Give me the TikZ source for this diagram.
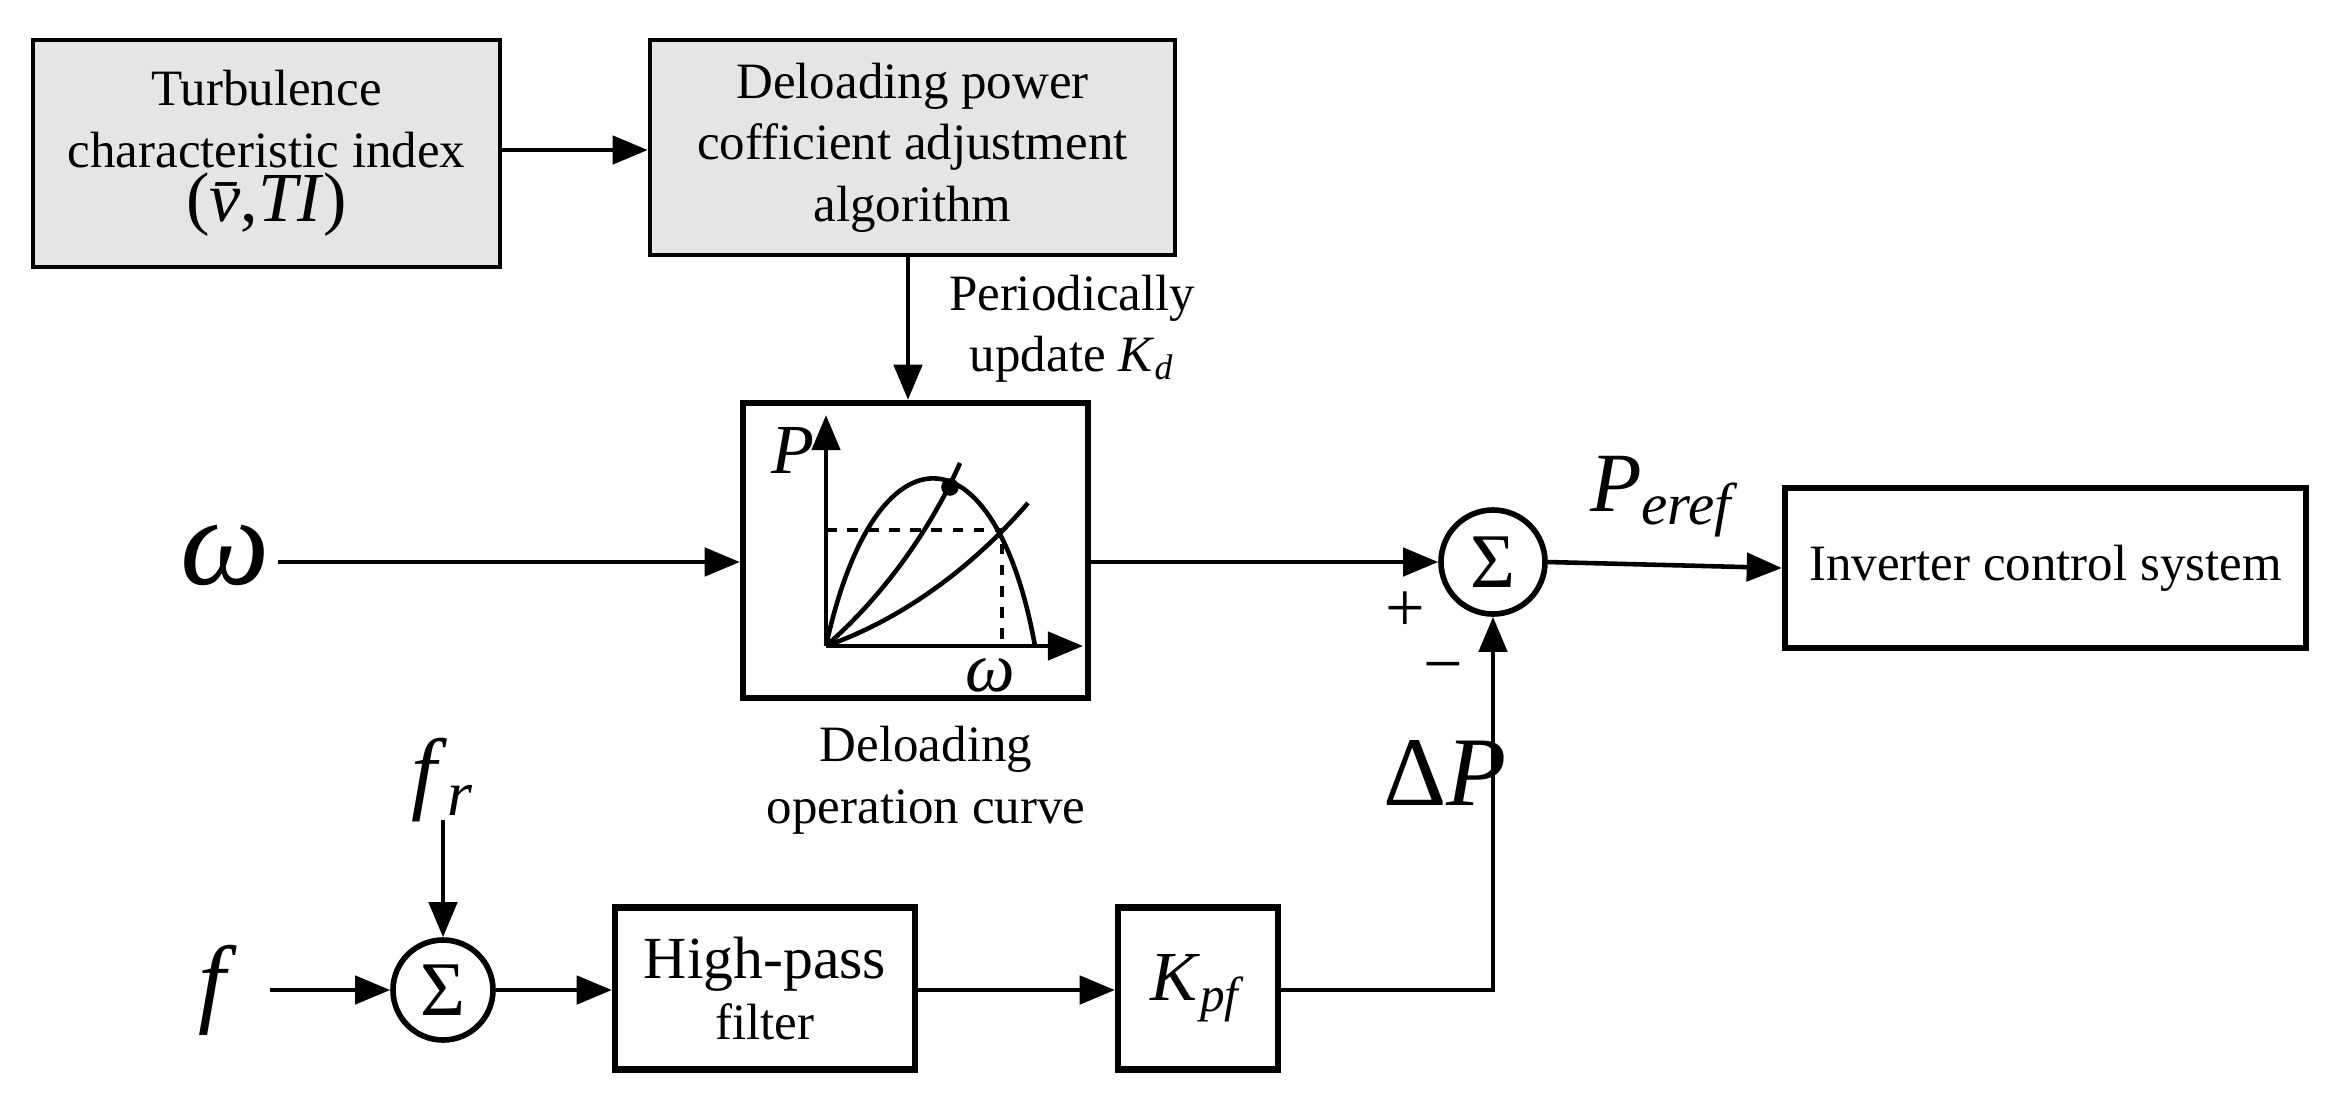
\documentclass[tikz,border=0pt]{standalone}
\usepackage{fontspec}
\setmainfont{Liberation Serif}
\usetikzlibrary{arrows.meta}
\newcommand{\itx}[1]{\textit{#1}}
\begin{document}
\begin{tikzpicture}[line width=1.3pt, >={Triangle[length=10pt,width=8pt]},
	font=\fontsize{14.5}{17.5}\selectfont]
	\tikzstyle{block_gray} = [draw=black, fill=gray!20, align=center, inner sep=2pt]
	\tikzstyle{block} = [draw=black, line width=1.8pt, align=center, inner sep=2pt]
	\tikzstyle{summer} = [circle, draw=black, line width=1.6pt, inner sep=0pt]
	\useasboundingbox (0,0) rectangle (23.39,11.10);

%------------------------------------------------------------
	\node[block_gray, minimum width=4.67cm, minimum height=2.27cm] (turb) at (2.665,9.565)
		{Turbulence\\characteristic index\\[-2pt]{\fontsize{20}{18}\selectfont(\itx{\=v},\itx{TI})}};
	\node[block_gray, minimum width=5.25cm, minimum height=2.15cm] (adj) at (9.125,9.625)
		{Deloading power\\cofficient adjustment\\algorithm};
	\draw[->] (turb.east |- 0,9.6) -- (adj.west |- 0,9.6);

%------------------------------------------------------------
	\node[block, minimum width=3.45cm, minimum height=2.95cm] (curve) at (9.155,5.595) {};
	\draw[->] (adj.south -| 9.08,0) -- (curve.north -| 9.08,0) node[pos=0.5, right=2pt, align=center, xshift=0.2cm] {Periodically\\update \itx{K}\textsubscript{\itx{d}}};
	\node[align=center] (curvelbl) at (9.26,3.3) {Deloading\\operation curve};

	% curve inside the block
	\coordinate (o) at (8.26,4.64);
	\draw[->] (o) -- (8.26,6.95);
	\draw[->] (o) -- (10.83,4.64);
	\node (plbl) at (7.93,6.6) {\fontsize{20}{20}\selectfont\itx{P}};
	\node (wlbl) at (9.9,4.35) {\fontsize{20}{20}\selectfont\itx{ω}};
	\draw (o) .. controls (8.75,6.9) and (9.95,6.85) .. (10.35,4.64);
	\draw (o) .. controls (8.9,5.2) and (9.35,5.9) .. (9.60,6.47);
	\fill (9.50,6.23) circle (2.5pt);
	\draw (o) .. controls (9.0,4.9) and (9.7,5.4) .. (10.28,6.07);
	\draw[dashed] (8.26,5.80) -- (10.02,5.80) -- (10.02,4.64);

%------------------------------------------------------------
	\node (w) at (2.25,5.55) {\fontsize{36}{36}\selectfont\itx{ω}};
	\coordinate (wstart) at (2.78,5.48);
	\draw[->] (wstart) -- (curve.west |- wstart);

	\node[summer, minimum size=1.04cm] (sum1) at (14.93,5.48) {\fontsize{22}{22}\selectfont Σ};
	\draw[->] (curve.east |- sum1) -- (sum1.west);
	\node (plus) at (14.05,4.98) {\fontsize{20}{20}\selectfont +};
	\node (minus) at (14.43,4.35) {\fontsize{20}{20}\selectfont −};

	\node[block, minimum width=5.21cm, minimum height=1.6cm] (inv) at (20.455,5.42) {Inverter control system};
	\draw[->] (sum1.east) -- (inv.west) node[pos=0.5, above=4pt] {\fontsize{24}{24}\selectfont\itx{P}\textsubscript{\itx{eref}}};

%------------------------------------------------------------
	\node[summer, minimum size=1.0cm] (sum2) at (4.43,1.2) {\fontsize{22}{22}\selectfont Σ};
	\node (f) at (2.18,1.2) {\fontsize{28}{28}\selectfont\itx{f}};
	\node (fr) at (4.43,3.3) {\fontsize{26}{26}\selectfont\itx{f}\textsubscript{\itx{r}}};
	\coordinate (fstart) at (2.7,1.2);
	\coordinate (frstart) at (4.43,2.9);
	\draw[->] (fstart) -- (sum2.west);
	\draw[->] (frstart) -- (sum2.north);

	\node[block, minimum width=3.0cm, minimum height=1.62cm] (hpf) at (7.65,1.215) {\fontsize{17}{20}\selectfont High-pass\\filter};
	\node[block, minimum width=1.6cm, minimum height=1.62cm] (kpf) at (11.98,1.215) {\fontsize{20}{20}\selectfont\itx{K}\textsubscript{\itx{pf}}};
	\draw[->] (sum2.east) -- (hpf.west |- sum2);
	\draw[->] (hpf.east |- sum2) -- (kpf.west |- sum2);
	\draw[->] (kpf.east |- sum2) -| (sum1.south);
	\node (dp) at (14.45,3.37) {\fontsize{28}{28}\selectfont Δ\itx{P}};
\end{tikzpicture}
\end{document}
